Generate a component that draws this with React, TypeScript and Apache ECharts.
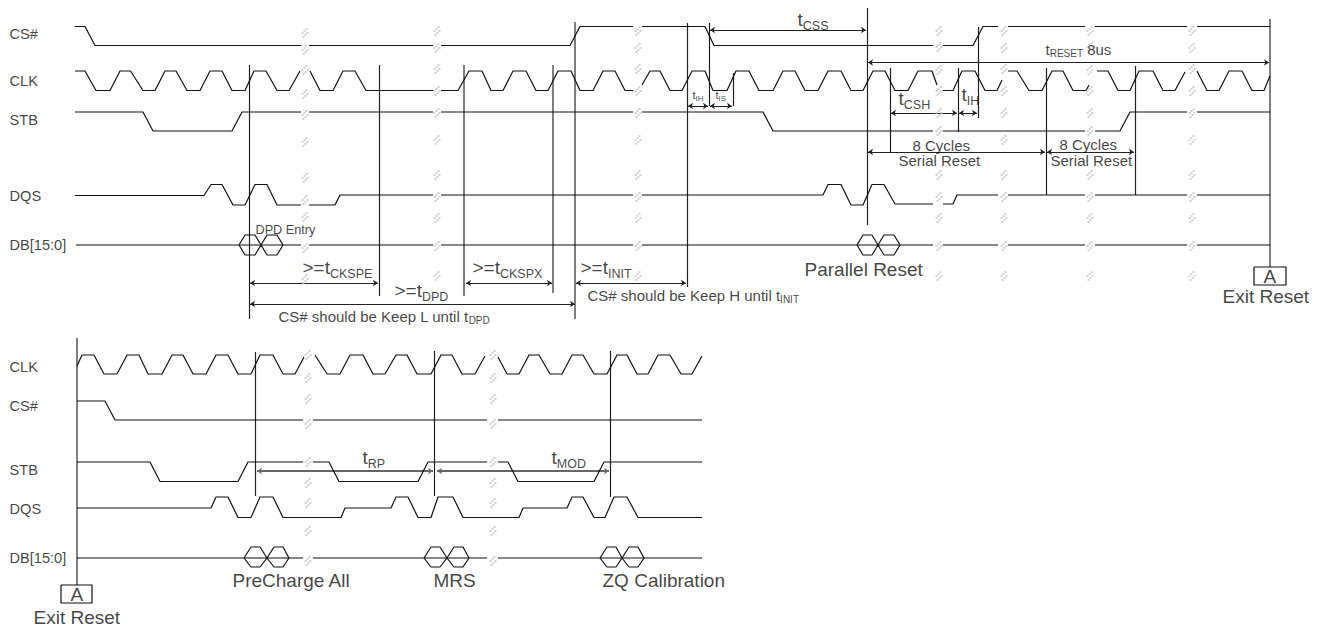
import React, { useEffect, useRef } from "react";
import * as echarts from "echarts";

type P = [number | null, number | null];
const X: P = [null, null];

// ---------- upper diagram ----------
const csTop: P[] = [[75,26.5],[85,26.5],[95,45.5],[301,45.5],X,[309,45.5],[433,45.5],X,[441,45.5],[570,45.5],[580,26.5],[633,26.5],X,[642,26.5],[705,26.5],[714,45.5],[933,45.5],X,[943,45.5],[973,45.5],[983,26.5],[998,26.5],X,[1008,26.5],[1085,26.5],X,[1095,26.5],[1187,26.5],X,[1197,26.5],[1270,26.5]];
const clkTop: P[] = [[75,71],[85,71],[96,90.5],[110,90.5],[120,71],[130.5,71],[143,90.5],[155,90.5],[165,71],[176,71],[187,90.5],[200,90.5],[210,71],[222,71],[232,90.5],[245,90.5],[254,71],[266,71],[277,90.5],[289,90.5],[300,71],X,[310,71],[320,90.5],[333,90.5],[343,71],[355,71],[366,90.5],[433,90.5],X,[441,90.5],[458,90.5],[469,71],[482,71],[491,90.5],[503,90.5],[513,71],[526,71],[536,90.5],[548,90.5],[558,71],[571,71],[580,90.5],[593,90.5],[603,71],[615,71],[625,90.5],[633,90.5],X,[642,85],[650,71],[660,71],[670,90.5],[682,90.5],[692,71],[705,71],[713,90.5],[727,90.5],[736,71],[749,71],[759,90.5],[773,90.5],[783,71],[795,71],[805,90.5],[818,90.5],[828,71],[841,71],[851,90.5],[863,90.5],[873,71],[885,71],[895,90.5],[908,90.5],[918,71],[932,71],[937,85],X,[943,90.5],[953,90.5],[962,71],[975,71],[985,90.5],[997,90.5],[1002,80],X,[1008,71],[1017,71],[1029,90.5],[1042,90.5],[1052,71],[1063,71],[1073,90.5],[1086,90.5],[1089,85],X,[1097,71],[1108,71],[1118,90.5],[1130,90.5],[1139,71],[1153,71],[1163,90.5],[1175,90.5],[1185,72],X,[1197,71],[1207,90.5],[1219,90.5],[1229,71],[1242,71],[1252,90.5],[1264,90.5],[1270,76]];
const stbTop: P[] = [[75,112],[143,112],[153,131],[232,131],[242,112],[301,112],X,[309,112],[433,112],X,[441,112],[633,112],X,[642,112],[763,112],[773,131],[933,131],X,[943,131],[1085,131],X,[1095,131],[1120,131],[1130,112],[1187,112],X,[1197,112],[1270,112]];
const dqsTop: P[] = [[75,195.5],[204,195.5],[211,184.5],[222,184.5],[233,205],[245,205],[255,184.5],[267,184.5],[277,205],[301,205],X,[309,205],[335,205],[340,195],[433,195],X,[441,195],[633,195],X,[642,195],[823,195],[828,184.5],[841,184.5],[851,205],[863,205],[872,184.5],[884,184.5],[895,204],[933,204],X,[943,204],[953,204],[957,195],[998,195],X,[1008,195],[1085,195],X,[1095,195],[1187,195],X,[1197,195],[1270,195]];
const dbTop: P[] = [[76,245],[301,245],X,[309,245],[433,245],X,[441,245],[633,245],X,[642,245],[933,245],X,[943,245],[998,245],X,[1008,245],[1085,245],X,[1095,245],[1187,245],X,[1197,245],[1270,245]];
const hexTop: P[] = [[239,245],[245,235],[255,235],[261,245],[255,255],[245,255],[239,245],X,[261,245],[267,235],[277,235],[283,245],[277,255],[267,255],[261,245],X,[857,245],[863,235],[872,235],[878,245],[872,255],[863,255],[857,245],X,[878,245],[884,235],[894,235],[900,245],[894,255],[884,255],[878,245]];
const boxes: P[] = [[1254,267],[1286,267],[1286,285],[1254,285],[1254,267],X,[61,585],[92,585],[92,603],[61,603],[61,585]];

// ---------- lower diagram ----------
const clkBot: P[] = [[77,366],[82,355],[94,355],[104,374],[117,374],[127,355],[139,355],[148,374],[162,374],[172,355],[183,355],[193,374],[206,374],[216,355],[228,355],[238,374],[251,374],[260,355],[273,355],[283,374],[295,374],[304,357],X,[315,355],[327,374],[340,374],[350,355],[363,355],[373,374],[385,374],[396,355],[407,355],[417,374],[431,374],[441,355],[452,355],[462,374],[475,374],[485,356],X,[498,357],[507,374],[519,374],[529,355],[539,355],[550,374],[562,374],[572,355],[583,355],[594,374],[607,374],[617,355],[627,355],[637,374],[648,374],[658,355],[670,355],[681,374],[692,374],[702,356]];
const csBot: P[] = [[77,401],[105,401],[115,420],[303,420],X,[313,420],[487,420],X,[498,420],[702,420]];
const stbBot: P[] = [[77,462],[150,462],[160,481.5],[238,481.5],[248,462],[303,462],X,[313,462],[329,462],[339,481.5],[418,481.5],[428,462],[487,462],X,[498,462],[508,462],[518,481.5],[594,481.5],[604,462],[702,462]];
const dqsBot: P[] = [[77,508],[211,508],[216,497],[228,497],[238,517.5],[251,517.5],[260,497],[273,497],[283,517.5],[341,517.5],[345,508],[391,508],[396,497],[408,497],[418,517.5],[431,517.5],[438,497],[453,497],[463,517.5],[519,517.5],[523,508],[567,508],[572,497],[583,497],[594,517.5],[605,517.5],[614,497],[627,497],[638,517.5],[702,517.5]];
const dbBot: P[] = [[77,558],[303,558],X,[313,558],[487,558],X,[498,558],[702,558]];
const hexBot: P[] = [[244,558],[251,547],[260,547],[267,558],[260,567],[251,567],[244,558],X,[267,558],[274,547],[283,547],[289,558],[283,567],[274,567],[267,558],X,[424,558],[431,547],[440,547],[447,558],[440,567],[431,567],[424,558],X,[447,558],[454,547],[463,547],[469,558],[463,567],[454,567],[447,558],X,[600,558],[607,547],[616,547],[622,558],[616,567],[607,567],[600,558],X,[622,558],[629,547],[638,547],[644,558],[638,567],[629,567],[622,558]];

// [x, y1, y2]
const guides: [number, number, number][] = [[249,65,319],[379,65,296],[687,23,287],[709,23,106],[733,73,106],[867,8,225],[890,68,152],[958,68,132],[978,27,118],[1046,68,195],[1135,66,195],[255.5,352,496],[434,351,496],[610.5,351,497]];
const softGuides: [number, number, number][] = [[464,65,296],[553,65,293],[575,22,319],[1270,19,267],[77,338,585]];
// [x1, x2, y]
const arrows: [number, number, number][] = [[250,378,283],[250,575,304],[466,552,283],[576,686,283],[688,708,106],[710,732,106],[710,866,30],[868,1269,62.5],[891,957,113],[959,977,113],[868,1045,152],[1047,1134,152]];
const softArrows: [number, number, number][] = [[257,433,471],[437,609,471]];

const breakColumnA = 305;
const breakRowsA = [33, 50, 70, 94, 115, 142, 178, 200, 217, 248, 279];
const breakColumnsB = [437, 638, 1004, 1192];
const breakRowsB = [31, 48, 69, 91, 113, 140, 175, 197, 218, 246, 276];
const breakColumnsC = [939, 1090];
const breakRowsC = [31, 47, 70, 91, 113, 131, 175, 197, 218, 246, 276];
const breakColumnsBot = [308, 493];
const breakRowsBot = [355, 378, 399, 424, 462, 483, 503, 531, 561];

// [x, y, rich text]
const texts: [number, number, string][] = [
  [9,34,"{a|CS#}"],[9,81,"{a|CLK}"],[9,120,"{a|STB}"],[9,196,"{a|DQS}"],[9,245,"{a|DB[15:0]}"],
  [255,230,"{e|DPD Entry}"],
  [302,269,"{b|>=t}{s|CKSPE}"],[394,292,"{b|>=t}{s|DPD}"],[472,269,"{b|>=t}{s|CKSPX}"],[580,269,"{b|>=t}{s|INIT}"],
  [278,317,"{c|CS# should be Keep L until t}{d|DPD}"],[587,296,"{c|CS# should be Keep H until t}{d|INIT}"],
  [692,96,"{g|t}{h|IH}"],[715,96,"{g|t}{h|IS}"],
  [797,21,"{b|t}{s|CSS}"],[1045,50,"{c|t}{d|RESET}{c| 8us}"],[898,100,"{b|t}{s|CSH}"],[961,96,"{b|t}{s|IH}"],
  [912,145,"{m|8 Cycles}"],[898,160,"{m|Serial Reset}"],[1059,144,"{m|8 Cycles}"],[1050,160,"{m|Serial Reset}"],
  [804,269,"{p|Parallel Reset}"],[1263,276,"{p|A}"],[1222,296,"{p|Exit Reset}"],
  [9,367,"{a|CLK}"],[9,406,"{a|CS#}"],[9,470,"{a|STB}"],[9,509,"{a|DQS}"],[9,558,"{a|DB[15:0]}"],
  [232,580,"{p|PreCharge All}"],[433,580,"{p|MRS}"],[602,580,"{p|ZQ Calibration}"],
  [362,459,"{b|t}{s|RP}"],[551,459,"{b|t}{s|MOD}"],
  [70,594,"{p|A}"],[33,617,"{p|Exit Reset}"],
];

const FONT = "'Liberation Sans', Arial, sans-serif";
const INK = "#111";
const TEXT = "#111";
const breakGlyph = "path://M5 0h2v2h-2z M3 2h2v2h-2z M1 4h2v2h-2z M6 4h2v2h-2z M4 6h2v2h-2z M2 8h2v2h-2z";

const waves = [csTop, clkTop, stbTop, dqsTop, dbTop, hexTop, boxes, clkBot, csBot, stbBot, dqsBot, dbBot, hexBot];
const breakPoints: [number, number][] = [];
breakRowsA.forEach((r) => breakPoints.push([breakColumnA, r]));
breakColumnsB.forEach((c) => breakRowsB.forEach((r) => breakPoints.push([c, r])));
breakColumnsC.forEach((c) => breakRowsC.forEach((r) => breakPoints.push([c, r])));
breakColumnsBot.forEach((c) => breakRowsBot.forEach((r) => breakPoints.push([c, r])));

const rt = (size: number, padBottom = 0, lh = size) => ({ fontSize: size, fontFamily: FONT, color: TEXT, lineHeight: lh + padBottom, padding: [0, 0, padBottom, 0] });
const sub = (size: number) => ({ fontSize: size, fontFamily: FONT, color: TEXT, lineHeight: size, verticalAlign: "bottom" });

const guideSeries = (list: [number, number, number][], color: string, width: number) => ({
  type: "lines", coordinateSystem: "cartesian2d", silent: true, z: 2, clip: false,
  lineStyle: { color, width, opacity: 1 },
  symbol: ["none", "none"],
  data: list.map(([x, y1, y2]) => ({ coords: [[x, y1], [x, y2]] })),
});
const arrowSeries = (list: [number, number, number][], color: string, width: number) => ({
  type: "lines", coordinateSystem: "cartesian2d", silent: true, z: 2, clip: false,
  lineStyle: { color, width, opacity: 1 },
  symbol: ["arrow", "arrow"], symbolSize: 5,
  data: list.map(([x1, x2, y]) => ({ coords: [[x1, y], [x2, y]] })),
});

export default function App() {
  const ref = useRef<HTMLDivElement>(null);
  useEffect(() => {
    const chart = echarts.init(ref.current!, undefined, { renderer: "svg" });
    chart.setOption({
      animation: false,
      backgroundColor: "#fff",
      grid: { left: 0, right: 0, top: 0, bottom: 0 },
      xAxis: { type: "value", min: 0, max: 1322, show: false },
      yAxis: { type: "value", min: 0, max: 628, inverse: true, show: false },
      series: [
        ...waves.map((data) => ({
          type: "line", data, symbol: "none", silent: true, clip: false, connectNulls: false, z: 3,
          lineStyle: { color: INK, width: 1.2 },
        })),
        guideSeries(guides, "#222", 1.2),
        guideSeries(softGuides, "#555", 1.5),
        arrowSeries(arrows, "#222", 1),
        arrowSeries(softArrows, "#666", 1.8),
        {
          type: "scatter", data: breakPoints, symbol: breakGlyph, symbolSize: [7, 10], silent: true, z: 4,
          itemStyle: { color: "#c6c6c6" },
        },
        {
          type: "scatter", silent: true, z: 5, symbolSize: 1,
          itemStyle: { color: "transparent" },
          data: texts.map(([x, y, t]) => ({ value: [x, y], t })),
          label: {
            show: true, position: "right", distance: 0,
            formatter: (p: any) => p.data.t,
            rich: {
              a: rt(14.6), b: rt(19, 4), s: sub(12.5), c: rt(15, 2), d: sub(10), m: rt(15, 0, 14), e: rt(12.7),
              g: rt(11, 2), h: sub(8), p: rt(19),
            },
          },
        },
      ],
    });
    return () => chart.dispose();
  }, []);
  return <div ref={ref} style={{ position: "absolute", left: 0, top: 0, width: 1322, height: 628 }} />;
}
